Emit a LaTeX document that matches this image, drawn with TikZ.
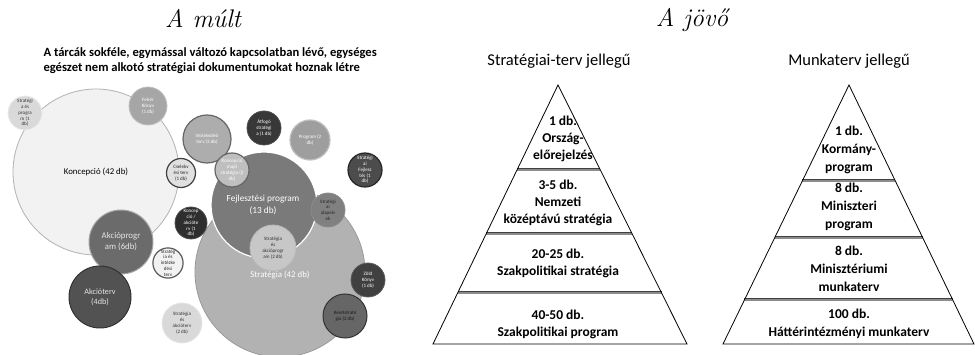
\documentclass[tikz,border=0pt]{standalone}
\usepackage{fontspec}
\usetikzlibrary{calc}
\newfontfamily\calfont{Carlito}
\begin{document}
\begin{tikzpicture}[x=1pt,y=-1pt,
  bub/.style={circle,inner sep=0pt,align=center,line width=0.8pt},
  tiny/.style={font=\calfont\fontsize{5}{5.8}\selectfont},
  big/.style={font=\calfont\fontsize{8.8}{11}\selectfont},
  lbl/.style={align=center,inner sep=0pt},
  title/.style={font=\fontsize{25.5}{28}\selectfont\itshape},
  pyrtext/.style={align=center,font=\calfont\bfseries\fontsize{13.5}{17}\selectfont},
  pyrtextb/.style={align=center,font=\calfont\bfseries\fontsize{13.5}{18}\selectfont},
  edge/.style={draw=black,line width=0.8pt,line join=miter},
  band/.style={draw=black!75,line width=3pt},
  bandcore/.style={draw=black!45,line width=1.2pt}]
\useasboundingbox (0,0) rectangle (975,355);

% ---------- headings ----------
\node[title] (mult) at (203,19) {A múlt};
\node[title] (jovo) at (692,20) {A jövő};
\node[anchor=west,align=left,font=\calfont\bfseries\fontsize{12.6}{15}\selectfont] (desc) at (40,60.5)
  {A tárcák sokféle, egymással változó kapcsolatban lévő, egységes\\egészet nem alkotó stratégiai dokumentumokat hoznak létre};
\node[font=\calfont\fontsize{16.5}{18}\selectfont] (st) at (559,61) {Stratégiai-terv jellegű};
\node[font=\calfont\fontsize{16.5}{18}\selectfont] (mt) at (849,61) {Munkaterv jellegű};

% ---------- bubble chart ----------
\node[bub,big,minimum size=166pt,fill=black!5,draw=black!30] (konc) at (96,172) {Koncepció (42 db)};
\node[bub,minimum size=170pt,fill=black!30,draw=black!40] (strat) at (280,272) {};
\node[lbl,big,text=white] (strat-t) at (280,275) {Stratégia (42 db)};
\node[bub,minimum size=106pt,fill=black!52,draw=white,line width=1.2pt] (fejl) at (264,205) {};
\node[lbl,font=\calfont\fontsize{9.3}{12}\selectfont,text=white] (fejl-t) at (263,205) {Fejlesztési program\\(13 db)};
\node[bub,big,minimum size=64pt,fill=black!58,draw=black!35,line width=1pt,text=black!10] (akp) at (121,242) {Akcióprogr\\am (6db)};
\node[bub,font=\calfont\fontsize{8.2}{10.5}\selectfont,minimum size=62pt,fill=black!68,draw=black!80,line width=1pt,text=black!10] (akt) at (100,297) {Akcióterv\\(4db)};
\node[bub,tiny,minimum size=38pt,fill=black!35,draw=black!25,text=white] (feher) at (148,106) {Fehér\\Könyv\\(1 db)};
\node[bub,tiny,minimum size=34pt,fill=black!15,draw=black!8,text=black!80] (sprog) at (25,113) {Stratégi\\a és\\progra\\m (1\\db)};
\node[bub,tiny,minimum size=48pt,fill=black!32,draw=black!60,line width=1.2pt,text=white] (intez) at (207,139) {Intézkedési\\terv (3 db)};
\node[bub,tiny,minimum size=29pt,fill=black!12,draw=black!75,line width=1.2pt,text=black!85] (cselek) at (181,173) {Cselekv\\ési terv\\(1 db)};
\node[bub,tiny,minimum size=34pt,fill=black!25,draw=black!60,line width=1.2pt,text=white] (kmaj) at (232,170) {Koncepció\\majd\\stratégia (2\\db)};
\node[bub,tiny,minimum size=34pt,fill=black!78,draw=black!70,text=white] (atfogo) at (264,128) {Átfogó\\stratégi\\a (1 db)};
\node[bub,tiny,minimum size=40pt,fill=black!38,draw=black!25,line width=1.2pt,text=white] (prog) at (310,140) {Program (2\\db)};
\node[bub,tiny,minimum size=34pt,fill=black!70,draw=black!85,line width=1.2pt,text=white] (sfejl) at (365,170) {Stratégi\\ai\\Fejlesz\\tés (1\\db)};
\node[bub,tiny,minimum size=34pt,fill=black!50,draw=black!45,text=black!85] (alap) at (328,210) {Stratégi\\ai\\alapelv\\ek};
\node[bub,tiny,minimum size=32pt,fill=black!82,draw=black!70,text=white] (kakt) at (191,223) {Koncep\\ció /\\akcióte\\rv (1\\db)};
\node[bub,tiny,minimum size=29pt,fill=black!5,draw=black!65,line width=1.2pt,text=black!85] (sint) at (168,263) {Stratég\\ia és\\intézke\\dési\\terv};
\node[bub,tiny,minimum size=46pt,fill=black!22,draw=black!28,text=black!80] (sakp) at (273,248) {Stratégia\\és\\akcióprogr\\am (2 db)};
\node[bub,tiny,minimum size=40pt,fill=black!15,draw=black!10,text=black!80] (sakt) at (182,323) {Stratégia\\és\\akcióterv\\(2 db)};
\node[bub,tiny,minimum size=34pt,fill=black!75,draw=black!65,text=white] (zold) at (368,280) {Zöld\\Könyv\\(1 db)};
\node[bub,tiny,minimum size=44pt,fill=black!60,draw=black!80,line width=1pt,text=black!90] (keret) at (345,316) {Keretstraté\\gia (2 db)};

% ---------- pyramid: strategic plans ----------
\coordinate (A) at (558,85);
\coordinate (BL) at (433,344);
\coordinate (BR) at (687,344);
\foreach \y/\n in {170/1,234/2,293/3}{
  \coordinate (l\n) at ($(A)!{(\y-85)/259}!(BL)$);
  \coordinate (r\n) at ($(A)!{(\y-85)/259}!(BR)$);
  \draw[band] (l\n) -- (r\n);
  \draw[bandcore] (l\n) -- (r\n);
}
\draw[edge] (A) -- (BL) -- (BR) -- cycle;
\node[pyrtext] (p1) at (563,139) {1 db.\\Ország-\\előrejelzés};
\node[pyrtext] (p2) at (558,203) {3-5 db.\\Nemzeti\\középtávú stratégia};
\node[pyrtext] (p3) at (558,263.5) {20-25 db.\\Szakpolitikai stratégia};
\node[pyrtext] (p4) at (558,324) {40-50 db.\\Szakpolitikai program};

% ---------- pyramid: work plans ----------
\coordinate (B) at (849,85);
\coordinate (CL) at (723,344);
\coordinate (CR) at (974,344);
\foreach \y/\n in {181/1,238/2,300/3}{
  \coordinate (m\n) at ($(B)!{(\y-85)/259}!(CL)$);
  \coordinate (n\n) at ($(B)!{(\y-85)/259}!(CR)$);
  \draw[band] (m\n) -- (n\n);
  \draw[bandcore] (m\n) -- (n\n);
}
\draw[edge] (B) -- (CL) -- (CR) -- cycle;
\node[pyrtextb] (q1) at (849,149.5) {1 db.\\Kormány-\\program};
\node[pyrtextb] (q2) at (849,207) {8 db.\\Miniszteri\\program};
\node[pyrtextb] (q3) at (849,269) {8 db.\\Minisztériumi\\munkaterv};
\node[pyrtextb] (q4) at (849,323.5) {100 db.\\Háttérintézményi munkaterv};
\end{tikzpicture}
\end{document}
